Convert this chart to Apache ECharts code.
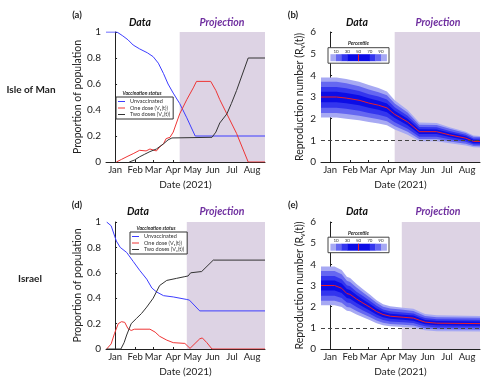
<!DOCTYPE html>
<html><head><meta charset="utf-8">
<script src="https://cdn.jsdelivr.net/npm/echarts@6/dist/echarts.min.js"></script>
<style>html,body{margin:0;padding:0;background:#fff}#c{width:500px;height:378px}</style>
</head><body><div id="c"></div>
<script>
// ---- axis ticks / labels (x = days since 1 Jan 2021) ----
const monthTicks = [0, 31, 59, 90, 120, 151, 181, 212];
const monthNames = ['Jan', 'Feb', 'Mar', 'Apr', 'May', 'Jun', 'Jul', 'Aug'];
const xMin = -14, xMax = 232;
const projStartMan = 100, projStartIsr = 111;
const percentileLabels = ['10', '30', '50', '70', '90'];
const percentileLabelValues = [10, 30, 50, 70, 90];

// ---- Isle of Man vaccination status [day, proportion] ----
const unvacMan = [[-14,1],[3,1],[12,0.97],[20,0.94],[28,0.9],[38,0.87],[50,0.84],[59,0.81],[67,0.76],[75,0.68],[82,0.6],[90,0.53],[100,0.45],[111,0.34],[124,0.2],[232,0.2]];
const oneMan = [[2,0],[10,0.02],[20,0.045],[28,0.064],[38,0.09],[48,0.085],[54,0.1],[64,0.085],[69,0.115],[75,0.14],[79,0.18],[85,0.19],[90,0.23],[100,0.37],[111,0.48],[121,0.57],[126,0.62],[148,0.62],[156,0.55],[162,0.48],[170,0.4],[188,0.22],[206,0],[232,0]];
const twoMan = [[22,0],[30,0.015],[38,0.04],[46,0.06],[54,0.08],[64,0.1],[75,0.14],[82,0.17],[88,0.185],[150,0.19],[156,0.23],[162,0.3],[173,0.37],[180,0.45],[188,0.55],[206,0.8],[232,0.8]];

// ---- Israel vaccination status [day, proportion] ----
const unvacIsr = [[-13,1],[-6,0.97],[2,0.85],[8,0.8],[18,0.76],[28,0.69],[38,0.62],[49,0.55],[57,0.48],[64,0.45],[75,0.42],[90,0.41],[111,0.39],[115,0.385],[131,0.3],[232,0.3]];
const oneIsr = [[-13,0],[-6,0.04],[-1,0.12],[5,0.2],[10,0.215],[15,0.21],[20,0.16],[25,0.146],[30,0.156],[54,0.156],[62,0.133],[69,0.1],[80,0.07],[90,0.05],[108,0.044],[111,0.04],[116,0.005],[131,0.08],[135,0.087],[142,0.05],[150,0],[232,0]];
const twoIsr = [[-13,0],[9,0],[14,0.05],[18,0.11],[25,0.2],[33,0.24],[41,0.28],[49,0.33],[59,0.4],[69,0.5],[80,0.54],[95,0.556],[108,0.57],[113,0.575],[117,0.6],[134,0.61],[152,0.7],[232,0.7]];

// ---- Isle of Man reproduction number percentiles ----
const daysMan = [-14, 10, 25, 45, 60, 75, 88, 100, 120, 138, 165, 185, 210, 222, 232];
const rMan50 = [3.0, 3.0, 2.95, 2.85, 2.72, 2.62, 2.5, 2.2, 1.85, 1.4, 1.4, 1.25, 1.1, 0.95, 0.95];
const rManHi1 = [3.9, 3.9, 3.83, 3.7, 3.55, 3.42, 3.25, 2.85, 2.4, 1.82, 1.8, 1.6, 1.4, 1.22, 1.2];
const rManLo1 = [2.05, 2.05, 2.0, 1.93, 1.85, 1.78, 1.7, 1.5, 1.26, 0.96, 0.96, 0.86, 0.76, 0.68, 0.67];
const rManHi2 = [3.7, 3.7, 3.63, 3.5, 3.35, 3.22, 3.08, 2.7, 2.28, 1.72, 1.71, 1.53, 1.34, 1.16, 1.15];
const rManLo2 = [2.26, 2.26, 2.22, 2.14, 2.05, 1.97, 1.88, 1.66, 1.4, 1.06, 1.06, 0.95, 0.84, 0.74, 0.73];
const rManHi3 = [3.46, 3.46, 3.4, 3.28, 3.13, 3.02, 2.88, 2.53, 2.13, 1.61, 1.6, 1.43, 1.26, 1.09, 1.08];
const rManLo3 = [2.5, 2.5, 2.46, 2.37, 2.26, 2.18, 2.08, 1.83, 1.54, 1.17, 1.17, 1.05, 0.93, 0.81, 0.8];
const rManHi4 = [3.24, 3.24, 3.19, 3.08, 2.94, 2.83, 2.7, 2.37, 2.0, 1.51, 1.5, 1.35, 1.19, 1.03, 1.02];
const rManLo4 = [2.76, 2.76, 2.71, 2.62, 2.5, 2.41, 2.3, 2.03, 1.7, 1.29, 1.29, 1.15, 1.01, 0.87, 0.87];

// ---- Israel reproduction number percentiles ----
const daysIsr = [-14, 7, 18, 26, 31, 41, 51, 62, 72, 82, 93, 113, 129, 139, 147, 165, 232];
const rIsr50 = [3.0, 3.0, 2.87, 2.62, 2.58, 2.36, 2.17, 1.97, 1.77, 1.63, 1.55, 1.5, 1.46, 1.35, 1.27, 1.22, 1.2];
const rIsrHi1 = [3.9, 3.9, 3.73, 3.41, 3.35, 3.07, 2.82, 2.56, 2.3, 2.12, 2.02, 1.95, 1.9, 1.76, 1.65, 1.59, 1.56];
const rIsrLo1 = [2.07, 2.07, 1.98, 1.81, 1.78, 1.63, 1.5, 1.36, 1.22, 1.12, 1.07, 1.04, 1.01, 0.93, 0.88, 0.84, 0.83];
const rIsrHi2 = [3.69, 3.69, 3.53, 3.22, 3.17, 2.9, 2.67, 2.42, 2.18, 2.0, 1.91, 1.85, 1.8, 1.66, 1.56, 1.5, 1.48];
const rIsrLo2 = [2.28, 2.28, 2.18, 1.99, 1.96, 1.79, 1.65, 1.5, 1.35, 1.24, 1.18, 1.14, 1.11, 1.03, 0.97, 0.93, 0.91];
const rIsrHi3 = [3.45, 3.45, 3.3, 3.01, 2.97, 2.71, 2.5, 2.27, 2.04, 1.87, 1.78, 1.73, 1.68, 1.55, 1.46, 1.4, 1.38];
const rIsrLo3 = [2.52, 2.52, 2.41, 2.2, 2.17, 1.98, 1.82, 1.65, 1.49, 1.37, 1.3, 1.26, 1.23, 1.13, 1.07, 1.02, 1.01];
const rIsrHi4 = [3.24, 3.24, 3.1, 2.83, 2.79, 2.55, 2.34, 2.13, 1.91, 1.76, 1.67, 1.62, 1.58, 1.46, 1.37, 1.32, 1.3];
const rIsrLo4 = [2.76, 2.76, 2.64, 2.41, 2.37, 2.17, 2.0, 1.81, 1.63, 1.5, 1.43, 1.38, 1.34, 1.24, 1.17, 1.12, 1.1];

// ---- styles ----
const FONT = 'Lato';
const TXT = '#222';
const SHADE = '#ddd3e4';
const BAND = ['#a7a9f3', '#6567f1', '#3335ee', '#0c0de6'];
const C_UN = '#3d3dff', C_ONE = '#ee3535', C_TWO = '#333333', C_MED = '#e8202a';
const NAMES = ['Unvaccinated', 'One dose (V\u2081(t))', 'Two doses (V\u2082(t))'];

const chart = echarts.init(document.getElementById('c'), null, {renderer: 'canvas'});

function xAx(i) {
  return {
    gridIndex: i, type: 'value', min: xMin, max: xMax,
    name: 'Date (2021)', nameLocation: 'middle', nameGap: 18,
    nameTextStyle: {fontSize: 10, color: TXT, fontFamily: FONT},
    axisLine: {lineStyle: {color: TXT, width: 1}},
    axisTick: {show: true, inside: true, length: 2, customValues: monthTicks, lineStyle: {color: TXT}},
    axisLabel: {customValues: monthTicks, formatter: v => monthNames[monthTicks.indexOf(v)],
      fontSize: 9.5, color: TXT, margin: 3, fontFamily: FONT},
    splitLine: {show: false}
  };
}
function yAxProp(i) {
  return {
    gridIndex: i, type: 'value', min: 0, max: 1, interval: 0.2,
    name: 'Proportion of population', nameLocation: 'middle', nameGap: 20,
    nameTextStyle: {fontSize: 10.5, color: TXT, fontFamily: FONT},
    axisLine: {show: true, lineStyle: {color: TXT, width: 1}},
    axisTick: {show: true, inside: true, length: 2, lineStyle: {color: TXT}},
    axisLabel: {fontSize: 10, color: TXT, margin: 5, fontFamily: FONT},
    splitLine: {show: false}
  };
}
function yAxR(i) {
  return {
    gridIndex: i, type: 'value', min: 0, max: 6, interval: 1,
    name: 'Reproduction number (R{s|v}(t))', nameLocation: 'middle', nameGap: 15,
    nameTextStyle: {fontSize: 10.5, color: TXT, fontFamily: FONT,
      rich: {s: {fontSize: 7, color: TXT, fontFamily: FONT, padding: [5, 0, 0, 0]}}},
    axisLine: {show: true, lineStyle: {color: TXT, width: 1}},
    axisTick: {show: true, inside: true, length: 2, lineStyle: {color: TXT}},
    axisLabel: {fontSize: 10, color: TXT, margin: 5, fontFamily: FONT},
    splitLine: {show: false}
  };
}
function helper(i, start, dashed) {
  const s = {
    type: 'line', xAxisIndex: i, yAxisIndex: i, data: [], z: 1, silent: true,
    markArea: {silent: true, itemStyle: {color: SHADE}, data: [[{xAxis: start}, {xAxis: xMax}]]}
  };
  if (dashed) {
    s.markLine = {silent: true, symbol: ['none', 'none'], label: {show: false},
      lineStyle: {type: [4, 3], color: '#444', width: 1}, data: [{yAxis: 1}]};
  }
  return s;
}
function band(i, days, lo, hi, color) {
  return {
    type: 'custom', xAxisIndex: i, yAxisIndex: i, z: 2, silent: true, data: [[days[0], lo[0]]],
    renderItem: (params, api) => {
      const pts = [];
      for (let k = 0; k < days.length; k++) pts.push(api.coord([days[k], hi[k]]));
      for (let k = days.length - 1; k >= 0; k--) pts.push(api.coord([days[k], lo[k]]));
      return {type: 'polygon', shape: {points: pts}, style: {fill: color}};
    }
  };
}
function line(i, name, data, color) {
  return {type: 'line', name, xAxisIndex: i, yAxisIndex: i, data, symbol: 'none', z: 3,
    lineStyle: {color, width: 1}, itemStyle: {color}, silent: true};
}
function median(i, days, vals) {
  return {type: 'line', xAxisIndex: i, yAxisIndex: i, data: days.map((d, k) => [d, vals[k]]),
    symbol: 'none', z: 4, lineStyle: {color: C_MED, width: 1}, silent: true};
}
function txt(x, y, text, opts) {
  return {type: 'text', x, y, silent: true, z: 100,
    style: Object.assign({text, fill: TXT, fontFamily: FONT, fontSize: 10, align: 'center', verticalAlign: 'middle'}, opts || {})};
}
function pctLegend(top) {
  const left = 328, w = 61, h = 15.5;
  const x0 = 330.4, pxPer = 0.562;
  const els = [];
  els.push({type: 'rect', z: 99, silent: true, shape: {x: left, y: top, width: w, height: h},
    style: {fill: '#fff', stroke: '#444', lineWidth: 1}});
  els.push(txt(left + w / 2, top - 4.3, 'Percentile', {fontSize: 5, fontWeight: 'bold', fontStyle: 'italic'}));
  percentileLabels.forEach((t, k) => els.push(txt(x0 + percentileLabelValues[k] * pxPer, top + 3.6, t, {fontSize: 4.5, fill: '#333'})));
  const segs = [[0, 10, 0], [10, 20, 1], [20, 30, 2], [30, 70, 3], [70, 80, 2], [80, 90, 1], [90, 100, 0]];
  segs.forEach(s => els.push({type: 'rect', z: 100, silent: true,
    shape: {x: x0 + s[0] * pxPer, y: top + 6.5, width: (s[1] - s[0]) * pxPer + 0.3, height: 7},
    style: {fill: BAND[s[2]]}}));
  els.push({type: 'line', z: 101, silent: true,
    shape: {x1: x0 + 50 * pxPer, y1: top + 6.5, x2: x0 + 50 * pxPer, y2: top + 13.5},
    style: {stroke: C_MED, lineWidth: 1}});
  return els;
}
function vacLegend(left, top) {
  return {data: NAMES.map(n => ({name: n, icon: 'rect'})), left, top, orient: 'vertical',
    itemWidth: 7, itemHeight: 1, itemGap: 0.5,
    padding: [1.5, 3, 1.5, 2], borderColor: '#333', borderWidth: 1, backgroundColor: '#fff',
    textStyle: {fontSize: 5.5, color: '#333', fontFamily: FONT, lineHeight: 6},
    selectedMode: false, z: 50};
}

const option = {
  animation: false,
  backgroundColor: '#fff',
  textStyle: {fontFamily: FONT},
  grid: [
    {left: 106, top: 32, width: 159, height: 130},
    {left: 321, top: 32, width: 159, height: 130},
    {left: 106, top: 222, width: 159, height: 129},
    {left: 321, top: 222, width: 159, height: 129}
  ],
  xAxis: [xAx(0), xAx(1), xAx(2), xAx(3)],
  yAxis: [yAxProp(0), yAxR(1), yAxProp(2), yAxR(3)],
  legend: [vacLegend(116, 97), vacLegend(130, 232)],
  series: [
    helper(0, projStartMan, false),
    line(0, NAMES[0], unvacMan, C_UN),
    line(0, NAMES[1], oneMan, C_ONE),
    line(0, NAMES[2], twoMan, C_TWO),

    helper(1, projStartMan, true),
    band(1, daysMan, rManLo1, rManHi1, BAND[0]),
    band(1, daysMan, rManLo2, rManHi2, BAND[1]),
    band(1, daysMan, rManLo3, rManHi3, BAND[2]),
    band(1, daysMan, rManLo4, rManHi4, BAND[3]),
    median(1, daysMan, rMan50),

    helper(2, projStartIsr, false),
    line(2, NAMES[0], unvacIsr, C_UN),
    line(2, NAMES[1], oneIsr, C_ONE),
    line(2, NAMES[2], twoIsr, C_TWO),

    helper(3, projStartIsr, true),
    band(3, daysIsr, rIsrLo1, rIsrHi1, BAND[0]),
    band(3, daysIsr, rIsrLo2, rIsrHi2, BAND[1]),
    band(3, daysIsr, rIsrLo3, rIsrHi3, BAND[2]),
    band(3, daysIsr, rIsrLo4, rIsrHi4, BAND[3]),
    median(3, daysIsr, rIsr50)
  ],
  graphic: [].concat(
    [
      txt(31, 90, 'Isle of Man', {fontSize: 10, fontWeight: 'bold'}),
      txt(30, 279, 'Israel', {fontSize: 10, fontWeight: 'bold'}),
      txt(77, 15, '(a)', {fontSize: 9.5, fontWeight: 'bold'}),
      txt(293, 15, '(b)', {fontSize: 9.5, fontWeight: 'bold'}),
      txt(77, 205, '(d)', {fontSize: 9.5, fontWeight: 'bold'}),
      txt(293, 205, '(e)', {fontSize: 9.5, fontWeight: 'bold'}),
      txt(140, 23, 'Data', {fontSize: 10.5, fontWeight: 'bold', fontStyle: 'italic', fill: '#111'}),
      txt(222, 23, 'Projection', {fontSize: 10.5, fontWeight: 'bold', fontStyle: 'italic', fill: '#7030a0'}),
      txt(357, 23, 'Data', {fontSize: 10.5, fontWeight: 'bold', fontStyle: 'italic', fill: '#111'}),
      txt(438, 23, 'Projection', {fontSize: 10.5, fontWeight: 'bold', fontStyle: 'italic', fill: '#7030a0'}),
      txt(138, 212, 'Data', {fontSize: 10.5, fontWeight: 'bold', fontStyle: 'italic', fill: '#111'}),
      txt(222, 212, 'Projection', {fontSize: 10.5, fontWeight: 'bold', fontStyle: 'italic', fill: '#7030a0'}),
      txt(357, 212, 'Data', {fontSize: 10.5, fontWeight: 'bold', fontStyle: 'italic', fill: '#111'}),
      txt(438, 212, 'Projection', {fontSize: 10.5, fontWeight: 'bold', fontStyle: 'italic', fill: '#7030a0'}),
      txt(142, 93, 'Vaccination status', {fontSize: 5, fontWeight: 'bold', fontStyle: 'italic'}),
      txt(156, 228, 'Vaccination status', {fontSize: 5, fontWeight: 'bold', fontStyle: 'italic'})
    ],
    pctLegend(47.7),
    pctLegend(237.2)
  )
};
chart.setOption(option);
</script>
</body></html>
